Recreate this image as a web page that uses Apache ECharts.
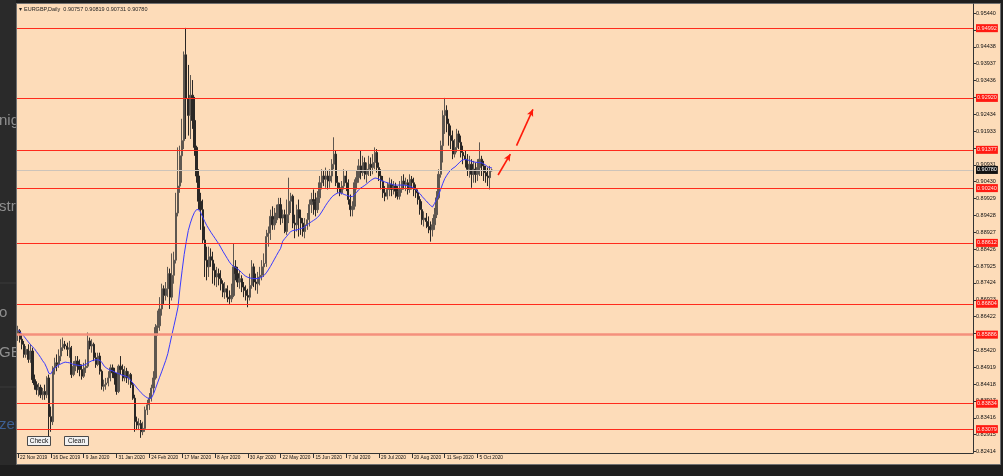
<!DOCTYPE html>
<html><head><meta charset="utf-8">
<script src="https://cdn.jsdelivr.net/npm/echarts@6/dist/echarts.min.js"></script>
<style>html,body{margin:0;padding:0;background:#1e1e1e;overflow:hidden}#c{width:1003px;height:476px}</style>
</head><body><div id="c"></div>
<script>
// ---- data: [open, close, low, high] per daily bar ----
const nov19 = [
[0.8590,0.8600,0.8570,0.8615],[0.8600,0.8575,0.8565,0.8605],[0.8575,0.8560,0.8545,0.8590],
[0.8560,0.8530,0.8520,0.8570],[0.8530,0.8545,0.8520,0.8555],[0.8545,0.8515,0.8505,0.8560]];
const dec19 = [
[0.8515,0.8540,0.8505,0.8560],[0.8540,0.8455,0.8445,0.8550],[0.8455,0.8440,0.8425,0.8470],
[0.8440,0.8425,0.8410,0.8450],[0.8425,0.8432,0.8405,0.8445],[0.8432,0.8410,0.8400,0.8440],
[0.8410,0.8420,0.8395,0.8430],[0.8420,0.8410,0.8395,0.8440],[0.8410,0.8460,0.8400,0.8465],
[0.8460,0.8345,0.8280,0.8470],[0.8345,0.8330,0.8300,0.8375],[0.8330,0.8490,0.8320,0.8495],
[0.8490,0.8505,0.8470,0.8520],[0.8505,0.8500,0.8480,0.8530],[0.8500,0.8525,0.8490,0.8545],
[0.8525,0.8550,0.8510,0.8575],[0.8550,0.8560,0.8540,0.8580],[0.8560,0.8555,0.8545,0.8570],
[0.8555,0.8545,0.8525,0.8565],[0.8545,0.8550,0.8520,0.8570],[0.8550,0.8470,0.8460,0.8555]];
const jan20 = [
[0.8470,0.8495,0.8465,0.8510],[0.8495,0.8510,0.8480,0.8525],[0.8510,0.8500,0.8475,0.8525],
[0.8500,0.8485,0.8465,0.8515],[0.8485,0.8465,0.8455,0.8500],[0.8465,0.8490,0.8460,0.8505],
[0.8490,0.8495,0.8475,0.8515],[0.8495,0.8570,0.8490,0.8595],[0.8570,0.8555,0.8545,0.8580],
[0.8555,0.8560,0.8535,0.8575],[0.8560,0.8520,0.8510,0.8565],[0.8520,0.8500,0.8490,0.8535],
[0.8500,0.8525,0.8495,0.8535],[0.8525,0.8480,0.8470,0.8535],[0.8480,0.8435,0.8425,0.8485],
[0.8435,0.8440,0.8420,0.8455],[0.8440,0.8445,0.8425,0.8460],[0.8445,0.8460,0.8435,0.8480],
[0.8460,0.8490,0.8450,0.8500],[0.8490,0.8475,0.8460,0.8500],[0.8475,0.8460,0.8440,0.8490],
[0.8460,0.8420,0.8410,0.8475]];
const feb20 = [
[0.8420,0.8495,0.8415,0.8500],[0.8495,0.8485,0.8470,0.8525],[0.8485,0.8460,0.8450,0.8500],
[0.8460,0.8480,0.8450,0.8495],[0.8480,0.8460,0.8445,0.8490],[0.8460,0.8470,0.8440,0.8480],
[0.8470,0.8440,0.8430,0.8475],[0.8440,0.8400,0.8395,0.8445],[0.8400,0.8330,0.8300,0.8410],
[0.8330,0.8320,0.8305,0.8345],[0.8320,0.8325,0.8305,0.8340],[0.8325,0.8300,0.8282,0.8335],
[0.8300,0.8310,0.8290,0.8330],[0.8310,0.8365,0.8300,0.8375],[0.8365,0.8380,0.8350,0.8395],
[0.8380,0.8400,0.8365,0.8415],[0.8400,0.8430,0.8390,0.8440],[0.8430,0.8460,0.8415,0.8480],
[0.8460,0.8610,0.8455,0.8620],[0.8610,0.8615,0.8585,0.8660]];
const mar20 = [
[0.8615,0.8665,0.8600,0.8700],[0.8665,0.8725,0.8645,0.8740],[0.8725,0.8705,0.8680,0.8735],
[0.8705,0.8725,0.8690,0.8745],[0.8725,0.8770,0.8700,0.8790],[0.8770,0.8700,0.8665,0.8785],
[0.8700,0.8765,0.8690,0.8830],[0.8765,0.8810,0.8740,0.8835],[0.8810,0.8950,0.8800,0.9010],
[0.8950,0.9030,0.8940,0.9145],[0.9030,0.9120,0.9010,0.9150],[0.9120,0.9165,0.9040,0.9230],
[0.9165,0.9420,0.9140,0.9430],[0.9420,0.9290,0.9170,0.9500],[0.9290,0.9240,0.9180,0.9390],
[0.9240,0.9300,0.9170,0.9360],[0.9300,0.9225,0.9200,0.9345],[0.9225,0.9145,0.9120,0.9295],
[0.9145,0.9060,0.9040,0.9150],[0.9060,0.8985,0.8960,0.9080],[0.8985,0.8960,0.8900,0.9010],
[0.8960,0.8870,0.8860,0.8990]];
const apr20 = [
[0.8870,0.8810,0.8760,0.8910],[0.8810,0.8790,0.8750,0.8850],[0.8790,0.8820,0.8760,0.8850],
[0.8820,0.8810,0.8790,0.8845],[0.8810,0.8780,0.8740,0.8835],[0.8780,0.8760,0.8735,0.8800],
[0.8760,0.8770,0.8730,0.8790],[0.8770,0.8755,0.8735,0.8785],[0.8755,0.8740,0.8720,0.8780],
[0.8740,0.8715,0.8700,0.8750],[0.8715,0.8725,0.8695,0.8745],[0.8725,0.8700,0.8685,0.8735],
[0.8700,0.8695,0.8680,0.8720],[0.8695,0.8705,0.8685,0.8740],[0.8705,0.8790,0.8700,0.8860],
[0.8790,0.8770,0.8750,0.8810],[0.8770,0.8745,0.8730,0.8790],[0.8745,0.8755,0.8725,0.8780],
[0.8755,0.8730,0.8715,0.8765],[0.8730,0.8720,0.8700,0.8745],[0.8720,0.8705,0.8690,0.8735],
[0.8705,0.8700,0.8670,0.8725]];
const may20 = [
[0.8700,0.8735,0.8690,0.8770],[0.8735,0.8790,0.8725,0.8810],[0.8790,0.8745,0.8730,0.8800],
[0.8745,0.8740,0.8720,0.8770],[0.8740,0.8760,0.8710,0.8775],[0.8760,0.8765,0.8735,0.8790],
[0.8765,0.8790,0.8750,0.8810],[0.8790,0.8800,0.8760,0.8830],[0.8800,0.8880,0.8790,0.8900],
[0.8880,0.8890,0.8850,0.8910],[0.8890,0.8940,0.8870,0.8960],[0.8940,0.8915,0.8900,0.8970],
[0.8915,0.8930,0.8900,0.8965],[0.8930,0.8950,0.8920,0.8975],[0.8950,0.8975,0.8935,0.8995],
[0.8975,0.8935,0.8915,0.8995],[0.8935,0.8945,0.8920,0.8960],[0.8945,0.8895,0.8890,0.8960],
[0.8895,0.8945,0.8885,0.8990],[0.8945,0.8985,0.8920,0.9055],[0.8985,0.9000,0.8950,0.9010]];
const jun20 = [
[0.9000,0.8920,0.8905,0.9005],[0.8920,0.8915,0.8875,0.8945],[0.8915,0.8960,0.8895,0.8975],
[0.8960,0.8935,0.8880,0.8990],[0.8935,0.8920,0.8885,0.8960],[0.8920,0.8895,0.8880,0.8935],
[0.8895,0.8915,0.8875,0.8935],[0.8915,0.8930,0.8900,0.8950],[0.8930,0.8975,0.8910,0.8990],
[0.8975,0.8990,0.8950,0.9010],[0.8990,0.8985,0.8945,0.9020],[0.8985,0.8960,0.8940,0.9010],
[0.8960,0.8995,0.8950,0.9015],[0.8995,0.9040,0.8980,0.9060],[0.9040,0.9060,0.9020,0.9080],
[0.9060,0.9050,0.9030,0.9075],[0.9050,0.9060,0.9025,0.9085],[0.9060,0.9045,0.9020,0.9075],
[0.9045,0.9060,0.9025,0.9080],[0.9060,0.9095,0.9040,0.9110],[0.9095,0.9125,0.9080,0.9175],
[0.9125,0.9040,0.9030,0.9135]];
const jul20 = [
[0.9040,0.9025,0.9010,0.9060],[0.9025,0.9010,0.9000,0.9040],[0.9010,0.9030,0.9005,0.9045],
[0.9030,0.9060,0.9020,0.9080],[0.9060,0.9040,0.9015,0.9075],[0.9040,0.8990,0.8975,0.9050],
[0.8990,0.8960,0.8940,0.9005],[0.8960,0.8970,0.8940,0.8985],[0.8970,0.9040,0.8960,0.9050],
[0.9040,0.9055,0.9020,0.9075],[0.9055,0.9090,0.9040,0.9110],[0.9090,0.9070,0.9050,0.9135],
[0.9070,0.9100,0.9060,0.9120],[0.9100,0.9065,0.9050,0.9115],[0.9065,0.9080,0.9040,0.9100],
[0.9080,0.9095,0.9060,0.9120],[0.9095,0.9085,0.9060,0.9115],[0.9085,0.9100,0.9065,0.9125],
[0.9100,0.9130,0.9080,0.9145],[0.9130,0.9085,0.9070,0.9140],[0.9085,0.9060,0.9045,0.9100],
[0.9060,0.9045,0.9020,0.9080],[0.9045,0.9010,0.8995,0.9060]];
const aug20 = [
[0.9010,0.9000,0.8985,0.9030],[0.9000,0.9020,0.8990,0.9040],[0.9020,0.9035,0.9000,0.9055],
[0.9035,0.9020,0.9000,0.9050],[0.9020,0.9030,0.9005,0.9045],[0.9030,0.9015,0.8995,0.9040],
[0.9015,0.9000,0.8990,0.9030],[0.9000,0.9020,0.8990,0.9045],[0.9020,0.9045,0.9010,0.9060],
[0.9045,0.9035,0.9020,0.9065],[0.9035,0.9040,0.9015,0.9055],[0.9040,0.9020,0.9005,0.9050],
[0.9020,0.9050,0.9010,0.9065],[0.9050,0.9040,0.9020,0.9060],[0.9040,0.9020,0.9000,0.9055],
[0.9020,0.9010,0.8995,0.9035],[0.9010,0.8990,0.8975,0.9020],[0.8990,0.8960,0.8945,0.9000],
[0.8960,0.8930,0.8915,0.8985],[0.8930,0.8935,0.8910,0.8955],[0.8935,0.8925,0.8905,0.8950]];
const sep20 = [
[0.8925,0.8910,0.8890,0.8940],[0.8910,0.8900,0.8865,0.8925],[0.8900,0.8915,0.8880,0.8935],
[0.8915,0.8945,0.8900,0.8965],[0.8945,0.8995,0.8935,0.9015],[0.8995,0.9065,0.8990,0.9080],
[0.9065,0.9150,0.9055,0.9165],[0.9150,0.9240,0.9100,0.9255],[0.9240,0.9255,0.9185,0.9292],
[0.9255,0.9215,0.9190,0.9270],[0.9215,0.9180,0.9150,0.9230],[0.9180,0.9165,0.9140,0.9210],
[0.9165,0.9125,0.9110,0.9195],[0.9125,0.9145,0.9115,0.9170],[0.9145,0.9185,0.9130,0.9200],
[0.9185,0.9160,0.9140,0.9195],[0.9160,0.9130,0.9115,0.9180],[0.9130,0.9120,0.9095,0.9150],
[0.9120,0.9110,0.9085,0.9135],[0.9110,0.9080,0.9060,0.9125],[0.9080,0.9095,0.9055,0.9120],
[0.9095,0.9065,0.9025,0.9110]];
const oct20 = [
[0.9065,0.9080,0.9040,0.9105],[0.9080,0.9065,0.9040,0.9100],[0.9065,0.9085,0.9045,0.9110],
[0.9085,0.9110,0.9060,0.9160],[0.9110,0.9090,0.9060,0.9120],[0.9090,0.9070,0.9045,0.9105],
[0.9070,0.9060,0.9040,0.9090],[0.9060,0.9055,0.9030,0.9085],[0.9055,0.9075,0.9020,0.9090],
[0.90757,0.90780,0.90731,0.90819]];

// moving average (blue line), one value per bar
const ma = [
0.8603,0.8597,0.8590,0.8583,0.8575,0.8567,0.8560,0.8553,0.8547,0.8538,
0.8530,0.8521,0.8511,0.8503,0.8490,0.8474,0.8472,0.8483,0.8490,0.8495,
0.8499,0.8502,0.8505,0.8507,0.8506,0.8505,0.8503,0.8500,0.8499,0.8498,
0.8497,0.8497,0.8498,0.8500,0.8505,0.8508,0.8511,0.8513,0.8514,0.8514,
0.8512,0.8505,0.8495,0.8490,0.8486,0.8483,0.8481,0.8478,0.8475,0.8473,
0.8470,0.8468,0.8466,0.8464,0.8460,0.8452,0.8445,0.8438,0.8430,0.8423,
0.8416,0.8410,0.8405,0.8401,0.8399,0.8400,0.8412,0.8428,0.8445,0.8462,
0.8478,0.8495,0.8512,0.8532,0.8560,0.8588,0.8615,0.8642,0.8671,0.8730,
0.8780,0.8827,0.8865,0.8898,0.8920,0.8938,0.8952,0.8960,0.8960,0.8952,
0.8938,0.8925,0.8913,0.8903,0.8893,0.8884,0.8875,0.8866,0.8857,0.8846,
0.8835,0.8825,0.8815,0.8805,0.8797,0.8792,0.8788,0.8784,0.8779,0.8773,
0.8767,0.8762,0.8759,0.8757,0.8756,0.8755,0.8755,0.8756,0.8757,0.8760,
0.8765,0.8772,0.8781,0.8791,0.8802,0.8813,0.8824,0.8835,0.8845,0.8866,
0.8874,0.8881,0.8889,0.8895,0.8898,0.8899,0.8900,0.8902,0.8904,0.8906,
0.8910,0.8915,0.8920,0.8924,0.8928,0.8932,0.8937,0.8944,0.8953,0.8963,
0.8973,0.8982,0.8990,0.8998,0.9003,0.9007,0.9010,0.9010,0.9008,0.9005,
0.9003,0.9001,0.8999,0.8999,0.9004,0.9011,0.9019,0.9024,0.9028,0.9032,
0.9037,0.9042,0.9047,0.9051,0.9054,0.9053,0.9050,0.9047,0.9044,0.9042,
0.9040,0.9038,0.9036,0.9034,0.9033,0.9033,0.9033,0.9033,0.9033,0.9032,
0.9031,0.9029,0.9027,0.9024,0.9019,0.9013,0.9007,0.8999,0.8992,0.8986,
0.8979,0.8973,0.8968,0.8978,0.8990,0.9003,0.9020,0.9037,0.9052,0.9062,
0.9071,0.9078,0.9083,0.9087,0.9093,0.9099,0.9105,0.9108,0.9109,0.9108,
0.9106,0.9104,0.9102,0.9101,0.9100,0.9100,0.9099,0.9096,0.9092,0.9087,
0.9085,0.9084];

const dateLabels = ['22 Nov 2019','16 Dec 2019','9 Jan 2020','31 Jan 2020','24 Feb 2020','17 Mar 2020',
  '8 Apr 2020','30 Apr 2020','22 May 2020','15 Jun 2020','7 Jul 2020','29 Jul 2020','20 Aug 2020',
  '11 Sep 2020','5 Oct 2020'];
const labelEvery = 16;
const totalSlots = 466;

const yTicks = [0.95440,0.94939,0.94438,0.93937,0.93436,0.92935,0.92434,0.91933,0.91432,0.90931,
  0.90430,0.89929,0.89428,0.88927,0.88426,0.87925,0.87424,0.86923,0.86422,0.85921,0.85420,
  0.84919,0.84418,0.83917,0.83416,0.82915,0.82414];
const levels = [0.94992,0.92920,0.91377,0.90240,0.88612,0.86804,0.85886,0.83834,0.83079];
const thickLevel = 0.85886;
const currentPrice = 0.90780;
const arrows = [[[234,0.9063],[240,0.9125]],[[243,0.9150],[251,0.9258]]];
const titleText = 'EURGBP,Daily  0.90757 0.90819 0.90731 0.90780';

// ---- build ----
const candles = [].concat(nov19,dec19,jan20,feb20,mar20,apr20,may20,jun20,jul20,aug20,sep20,oct20);
const categories = [];
for (let i = 0; i < totalSlots; i++) categories.push(String(i));
const showIdx = (i) => i % labelEvery === 0 && (i / labelEvery) < dateLabels.length;

const levelData = levels.map(v => {
  const item = {yAxis: v};
  if (v === thickLevel) item.lineStyle = {color:'#f4907c', width:2.5, type:'solid'};
  return item;
});
levelData.push({yAxis: currentPrice, lineStyle:{color:'#cdc4ba', width:1, type:'solid'},
  label:{backgroundColor:'#111', color:'#fff'}});

const arrowData = arrows.map(a => [{coord:[String(a[0][0]), a[0][1]]},{coord:[String(a[1][0]), a[1][1]]}]);

const chart = echarts.init(document.getElementById('c'), null, {renderer:'canvas'});
const font = 'Liberation Sans, Arial, sans-serif';
chart.setOption({
  animation: false,
  backgroundColor: '#1e1e1e',
  textStyle: {fontFamily: font},
  grid: {left: 17, right: 30, top: 4, bottom: 23, containLabel: false},
  xAxis: {
    type: 'category', data: categories, boundaryGap: true,
    axisLine: {lineStyle: {color: '#333', width: 1}},
    axisTick: {show: true, interval: showIdx, alignWithLabel: true, length: 5, lineStyle: {color: '#333'}},
    axisLabel: {interval: showIdx, formatter: (v, i) => showIdx(i) ? dateLabels[i / labelEvery] : '',
      align: 'left', fontSize: 4.8, color: '#111', margin: 2, padding: [0,0,0,2]},
    splitLine: {show: false}
  },
  yAxis: {
    type: 'value', position: 'right', min: 0.8237, max: 0.9571, scale: true,
    axisLine: {show: true, lineStyle: {color: '#333'}},
    axisTick: {show: true, customValues: yTicks, length: 3, lineStyle: {color: '#333'}},
    axisLabel: {customValues: yTicks, formatter: v => v.toFixed(5), fontSize: 5.5, color: '#111', margin: 3},
    splitLine: {show: false}
  },
  graphic: [
    {type:'rect', z:-10, shape:{x:0,y:0,width:16,height:465}, style:{fill:'#2a2a2a'}},
    {type:'line', z:-9, shape:{x1:0,y1:283,x2:16,y2:283}, style:{stroke:'#3a3a3a', lineWidth:1}},
    {type:'line', z:-9, shape:{x1:0,y1:387,x2:16,y2:387}, style:{stroke:'#3a3a3a', lineWidth:1}},
    {type:'text', z:-9, x:-1, y:113, style:{text:'nig', fill:'#8e8e8e', font:'15px '+font}},
    {type:'text', z:-9, x:-1, y:199, style:{text:'str', fill:'#8e8e8e', font:'15px '+font}},
    {type:'text', z:-9, x:-1, y:305, style:{text:'o', fill:'#8e8e8e', font:'15px '+font}},
    {type:'text', z:-9, x:-1, y:345, style:{text:'GE', fill:'#8e8e8e', font:'15px '+font}},
    {type:'text', z:-9, x:-1, y:417, style:{text:'zer', fill:'#3d5f93', font:'15px '+font}},
    {type:'rect', z:-8, shape:{x:16.5,y:3.5,width:984,height:461}, style:{fill:'#fddcb9', stroke:'#707070', lineWidth:1}},
    {type:'text', z:50, x:19, y:6, style:{text:'\u25BE', fill:'#222', font:'6px '+font}},
    {type:'text', z:50, x:24, y:6, style:{text:titleText, fill:'#222', font:'5.5px '+font}},
    {type:'rect', z:50, shape:{x:27.5,y:436.5,width:23,height:9}, style:{fill:'#f2f2f2', stroke:'#4a4a4a', lineWidth:1}},
    {type:'text', z:51, x:39, y:441, style:{text:'Check', fill:'#111', font:'6.5px '+font, align:'center', verticalAlign:'middle'}},
    {type:'rect', z:50, shape:{x:64.5,y:436.5,width:24,height:9}, style:{fill:'#f2f2f2', stroke:'#4a4a4a', lineWidth:1}},
    {type:'text', z:51, x:76.5, y:441, style:{text:'Clean', fill:'#111', font:'6.5px '+font, align:'center', verticalAlign:'middle'}}
  ],
  series: [
    {
      type: 'candlestick', data: candles, barWidth: '85%', clip: false,
      itemStyle: {color:'#5e5750', color0:'#2a2725', borderColor:'#5e5750', borderColor0:'#2a2725', borderWidth:1},
      markLine: {
        silent: true, symbol: ['none','none'], animation: false, precision: 5,
        lineStyle: {color:'#ff2b1c', width:1, type:'solid'},
        label: {show:true, position:'end', distance:3, formatter: p => Number(p.value).toFixed(5),
          backgroundColor:'#ff1a12', color:'#ffe8e0', fontSize:5.5, padding:[1,1,1,1], fontFamily: font},
        data: levelData
      }
    },
    {
      type: 'line', data: ma, showSymbol: false, symbol: 'none', clip: false,
      lineStyle: {color:'#3a3aff', width:1}, z: 3,
      markLine: {
        silent: true, symbol: ['none','arrow'], symbolSize: [5,7], animation: false, precision: 5,
        lineStyle: {color:'#ff1a0a', width:1.6, type:'solid'},
        label: {show:false},
        data: arrowData
      }
    }
  ]
});
</script></body></html>
